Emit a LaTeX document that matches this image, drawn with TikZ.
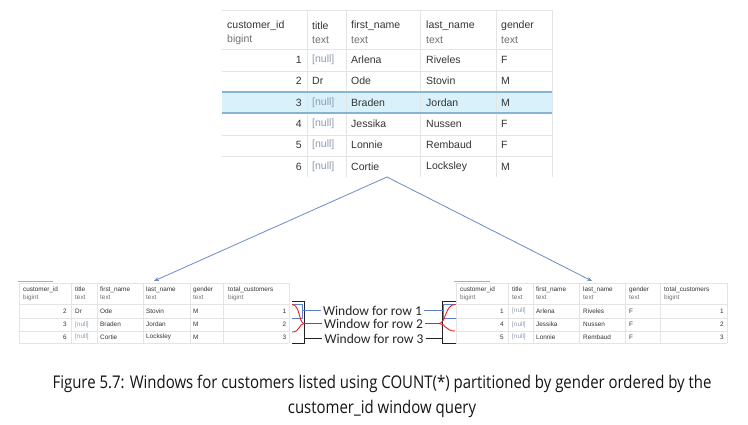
\documentclass[tikz,border=0pt]{standalone}
\usepackage{fontspec}
\setmainfont{Liberation Sans}
\newfontfamily\capfont[FakeStretch=0.855]{Open Sans}
\newfontfamily\winfont{Carlito}
\usetikzlibrary{arrows.meta}
\definecolor{gridc}{HTML}{E4E4E4}
\definecolor{txt}{HTML}{333333}
\definecolor{typc}{HTML}{707070}
\definecolor{nullc}{HTML}{8E9CB2}
\definecolor{hlfill}{HTML}{D8F1FA}
\definecolor{hlline}{HTML}{86B4D4}
\definecolor{arrc}{HTML}{6A8BCB}
\definecolor{bluebr}{HTML}{5B7FC7}
\definecolor{redbr}{HTML}{E8202A}
\definecolor{blackbr}{HTML}{222222}
\tikzset{
  big/.style={inner sep=0pt, font=\fontsize{10.5}{12}\selectfont, text=txt},
  bigt/.style={big, text=typc},
  small/.style={inner sep=0pt, font=\fontsize{6.4}{7.5}\selectfont, text=txt},
  smallt/.style={small, text=typc},
  gridl/.style={draw=gridc, line width=0.7pt},
  conn/.style={draw=arrc, line width=0.8pt, -{Stealth[length=5pt,width=4pt]}},
  winlbl/.style={inner sep=0pt, font=\winfont\fontsize{13.5}{15}\selectfont, text=black!85},
  br/.style={line width=0.9pt},
}
\begin{document}
\begin{tikzpicture}[x=1pt,y=-1pt]
\useasboundingbox[fill=white] (0,0) rectangle (748,425);

% ---------- top table ----------
\fill[hlfill] (222,92) rectangle (552,113);
\foreach \yy in {10,49,71,135,156} \draw[gridl] (222,\yy) -- (552,\yy);
\foreach \xx in {307,346,420,496,552} \draw[gridl] (\xx,10) -- (\xx,177);
\draw[hlline, line width=1.2pt] (222,92) -- (552,92) (222,113) -- (552,113);

\node[big, anchor=west] (th1) at (227,26) {customer\_id};
\node[bigt, anchor=west] (tt1) at (227,40) {bigint};
\node[big, anchor=west] (th2) at (312,26) {title};
\node[bigt, anchor=west] (tt2) at (312,40) {text};
\node[big, anchor=west] (th3) at (351,26) {first\_name};
\node[bigt, anchor=west] (tt3) at (351,40) {text};
\node[big, anchor=west] (th4) at (426,26) {last\_name};
\node[bigt, anchor=west] (tt4) at (426,40) {text};
\node[big, anchor=west] (th5) at (501,26) {gender};
\node[bigt, anchor=west] (tt5) at (501,40) {text};

\foreach \n/\ti/\tc/\fn/\ln/\g [count=\i] in {
  1/{[null]}/nullc/Arlena/Riveles/F,
  2/Dr/txt/Ode/Stovin/M,
  3/{[null]}/nullc/Braden/Jordan/M,
  4/{[null]}/nullc/Jessika/Nussen/F,
  5/{[null]}/nullc/Lonnie/Rembaud/F,
  6/{[null]}/nullc/Cortie/Locksley/M}{
  \pgfmathsetmacro\yy{49+21.3*(\i-1)+10.9}
  \node[big, anchor=east] (tn\i) at (302,\yy) {\n};
  \node[big, text=\tc, anchor=west] (tti\i) at (312,\yy) {\ti};
  \node[big, anchor=west] (tf\i) at (351,\yy) {\fn};
  \node[big, anchor=west] (tl\i) at (426,\yy) {\ln};
  \node[big, anchor=west] (tg\i) at (501,\yy) {\g};
}

% ---------- arrows ----------
\coordinate (apex) at (387,177);
\coordinate (lefttip) at (154,281);
\coordinate (righttip) at (592,281);
\draw[conn] (apex) -- (lefttip);
\draw[conn] (apex) -- (righttip);

% ---------- bottom-left table ----------
\draw[arrc!70, line width=1pt] (18,281.5) -- (53,281.5);
\foreach \yy in {283,304,318,331,343} \draw[gridl] (19,\yy) -- (289,\yy);
\foreach \xx in {19,71,97,143,190,223,289} \draw[gridl] (\xx,283) -- (\xx,343);
\node[small, anchor=west] (lh1) at (23,289.5) {customer\_id};
\node[smallt, anchor=west] (lk1) at (23,297.5) {bigint};
\node[small, anchor=west] (lh2) at (75,289.5) {title};
\node[smallt, anchor=west] (lk2) at (75,297.5) {text};
\node[small, anchor=west] (lh3) at (100,289.5) {first\_name};
\node[smallt, anchor=west] (lk3) at (100,297.5) {text};
\node[small, anchor=west] (lh4) at (146,289.5) {last\_name};
\node[smallt, anchor=west] (lk4) at (146,297.5) {text};
\node[small, anchor=west] (lh5) at (193,289.5) {gender};
\node[smallt, anchor=west] (lk5) at (193,297.5) {text};
\node[small, anchor=west] (lh6) at (228,289.5) {total\_customers};
\node[smallt, anchor=west] (lk6) at (228,297.5) {bigint};
\foreach \n/\ti/\tc/\fn/\ln/\g/\c/\yy in {
  2/Dr/txt/Ode/Stovin/M/1/311,
  3/{[null]}/nullc/Braden/Jordan/M/2/324.5,
  6/{[null]}/nullc/Cortie/Locksley/M/3/337}{
  \node[small, anchor=east] (ln\c) at (67,\yy) {\n};
  \node[small, text=\tc, anchor=west] (lti\c) at (75,\yy) {\ti};
  \node[small, anchor=west] (lf\c) at (100,\yy) {\fn};
  \node[small, anchor=west] (ll\c) at (146,\yy) {\ln};
  \node[small, anchor=west] (lg\c) at (193,\yy) {\g};
  \node[small, anchor=east] (lc\c) at (286.5,\yy) {\c};
}

% ---------- bottom-right table ----------
\draw[arrc!70, line width=1pt] (454,281.5) -- (490,281.5);
\foreach \yy in {283,304,318,331,343} \draw[gridl] (456,\yy) -- (727,\yy);
\foreach \xx in {456,508,533,579,625,660,727} \draw[gridl] (\xx,283) -- (\xx,343);
\node[small, anchor=west] (rh1) at (460,289.5) {customer\_id};
\node[smallt, anchor=west] (rk1) at (460,297.5) {bigint};
\node[small, anchor=west] (rh2) at (512,289.5) {title};
\node[smallt, anchor=west] (rk2) at (512,297.5) {text};
\node[small, anchor=west] (rh3) at (536,289.5) {first\_name};
\node[smallt, anchor=west] (rk3) at (536,297.5) {text};
\node[small, anchor=west] (rh4) at (583,289.5) {last\_name};
\node[smallt, anchor=west] (rk4) at (583,297.5) {text};
\node[small, anchor=west] (rh5) at (629,289.5) {gender};
\node[smallt, anchor=west] (rk5) at (629,297.5) {text};
\node[small, anchor=west] (rh6) at (664,289.5) {total\_customers};
\node[smallt, anchor=west] (rk6) at (664,297.5) {bigint};
\foreach \n/\fn/\ln/\g/\c/\yy in {
  1/Arlena/Riveles/F/1/311,
  4/Jessika/Nussen/F/2/324.5,
  5/Lonnie/Rembaud/F/3/337}{
  \node[small, anchor=east] (rn\c) at (504,\yy) {\n};
  \node[small, text=nullc, anchor=west] (rti\c) at (512,\yy) {[null]};
  \node[small, anchor=west] (rf\c) at (536,\yy) {\fn};
  \node[small, anchor=west] (rl\c) at (583,\yy) {\ln};
  \node[small, anchor=west] (rg\c) at (629,\yy) {\g};
  \node[small, anchor=east] (rc\c) at (724,\yy) {\c};
}

% ---------- window labels ----------
\node[winlbl] (w1) at (372.5,310.5) {Window for row 1};
\node[winlbl] (w2) at (373.5,323.5) {Window for row 2};
\node[winlbl] (w3) at (374,338.5) {Window for row 3};

% left brackets
\draw[br, blackbr] (292,301.5) -- (304,301.5) -- (304,343) -- (292,343);
\draw[br, blackbr] (304,338.5) -- ([xshift=-2pt]w3.west);
\draw[br, bluebr] (292,318) -- (302,318) -- (302,304) -- (292,304);
\draw[br, bluebr] (302,310.5) -- ([xshift=-2pt]w1.west);
\draw[br, redbr] (292,304.5) .. controls (300,304.5) and (299,323.5) .. (304,323.5);
\draw[br, redbr] (292,332) .. controls (300,332) and (299,323.5) .. (304,323.5);
\draw[br, redbr] (304,323.5) -- ([xshift=-2pt]w2.west);

% right brackets
\draw[br, blackbr] (456,301.5) -- (442,301.5) -- (442,343) -- (456,343);
\draw[br, blackbr] ([xshift=2pt]w3.east) -- (442,338.5);
\draw[br, bluebr] (456,318) -- (443,318) -- (443,304) -- (456,304);
\draw[br, bluebr] ([xshift=2pt]w1.east) -- (443,310.5);
\draw[br, redbr] (455,304.5) .. controls (445,304.5) and (446,323.5) .. (439,323.5);
\draw[br, redbr] (455,331) .. controls (445,331) and (446,323.5) .. (439,323.5);
\draw[br, redbr] ([xshift=2pt]w2.east) -- (439,323.5);

% ---------- caption ----------
\node[inner sep=0pt, font=\capfont\fontsize{17.5}{25}\selectfont, text=black!92, align=center] (cap) at (382,396)
  {Figure 5.7: Windows for customers listed using COUNT(*) partitioned by gender ordered by the\\customer\_id window query};
\end{tikzpicture}
\end{document}
